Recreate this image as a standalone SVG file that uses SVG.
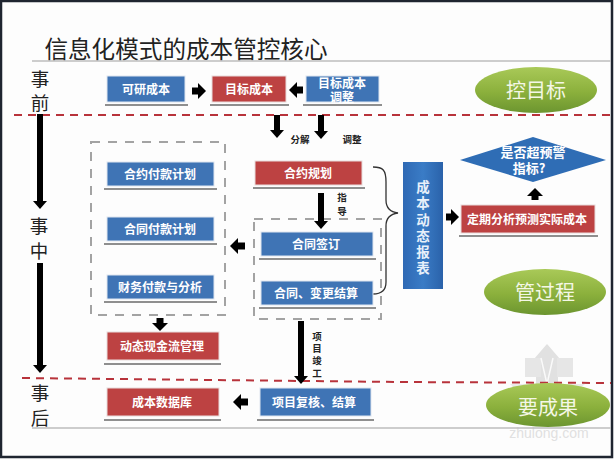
<svg xmlns="http://www.w3.org/2000/svg" width="614" height="460" viewBox="0 0 614 460">
<style>
text{font-family:"Noto Sans CJK SC","Liberation Sans",sans-serif;text-anchor:middle}
.blue{fill:#3f74b5;stroke:#dfe6f0;stroke-width:1}
.red{fill:#bd4242;stroke:#e8dcdc;stroke-width:1}
.sh{stroke:#8f8f8f;stroke-width:2;fill:none}
.t{fill:#fff;font-size:12px;font-weight:700}
.side{fill:#222;font-size:18.5px}
.lab{fill:#222;font-size:9.5px;font-weight:700}
.v{writing-mode:vertical-rl;text-orientation:upright}
.et{fill:#f4f7e6;font-size:20px}
.dash{fill:none;stroke:#a3a3a3;stroke-width:2;stroke-dasharray:9 8}
.rd{fill:none;stroke:#b8333b;stroke-width:2;stroke-dasharray:8 6}
.a{stroke:#000;stroke-width:6;fill:none;marker-end:url(#h)}
.b{stroke:#000;stroke-width:7;fill:none;marker-end:url(#h2)}
</style>
<defs>
<linearGradient id="g" x1="0" y1="0" x2="0" y2="1"><stop offset="0" stop-color="#a9c958"/><stop offset=".55" stop-color="#8bb03c"/><stop offset="1" stop-color="#6c9530"/></linearGradient>
<linearGradient id="bg" x1="0" y1="0" x2="1" y2="0"><stop offset="0" stop-color="#2f69b4"/><stop offset=".5" stop-color="#3a7cc6"/><stop offset="1" stop-color="#2a62aa"/></linearGradient>
<marker id="h" markerUnits="userSpaceOnUse" markerWidth="12" markerHeight="16" refX="0" refY="7" orient="auto"><path d="M0,0L8,7L0,14Z" fill="#000"/></marker>
<marker id="h2" markerUnits="userSpaceOnUse" markerWidth="12" markerHeight="18" refX="0" refY="8" orient="auto"><path d="M0,0L8,8L0,16Z" fill="#000"/></marker>
</defs>
<rect width="614" height="460" fill="#fdfdfd"/>
<rect x="1" y="1" width="611" height="456" fill="none" stroke="#1f2530" stroke-width="2.5"/>

<g id="watermark" opacity=".9">
<path d="M547,344L566,366L558,366L558,385L536,385L536,366L528,366Z" fill="#dedede"/>
<rect x="525" y="358" width="16" height="19" fill="#e4e4e4"/><rect x="557" y="358" width="16" height="19" fill="#e4e4e4"/>
<path d="M547,384L585,384L560,405L547,420L534,405L510,384Z" fill="#e8e8e8"/>
<path d="M541,358L547,384L553,358" fill="none" stroke="#fafafa" stroke-width="1.5"/>
<text x="549" y="438" fill="#dedede" font-size="14" style="font-family:'Liberation Sans',sans-serif">zhulong.com</text>
</g>

<g id="title"><text x="186" y="58" font-size="23.6" fill="#222">信息化模式的成本管控核心</text>
<line x1="32" y1="61" x2="611" y2="61" stroke="#bdbdbd" stroke-width="1.5"/>
<line x1="32" y1="428" x2="611" y2="428" stroke="#bdbdbd" stroke-width="1.5"/></g>

<g id="dividers">
<line class="rd" x1="14" y1="115" x2="611" y2="115"/>
<path class="rd" d="M22,378L400,382L611,383"/>
<rect class="dash" x="91" y="142" width="134" height="173"/>
<rect class="dash" x="254" y="219" width="127" height="100"/>
</g>

<g id="phases">
<text class="side"><tspan x="40" y="86">事</tspan><tspan x="40" y="110">前</tspan></text>
<text class="side"><tspan x="39" y="233">事</tspan><tspan x="39" y="258">中</tspan></text>
<text class="side"><tspan x="40" y="400">事</tspan><tspan x="40" y="425">后</tspan></text>
</g>

<g id="connectors">
<line class="a" x1="40" y1="114" x2="40" y2="201"/>
<line class="a" x1="40" y1="263" x2="40" y2="365"/>
<line class="b" x1="192" y1="91" x2="198" y2="91"/>
<line class="b" x1="303" y1="90" x2="297" y2="90"/>
<line class="a" x1="277" y1="115" x2="277" y2="130"/>
<line class="a" x1="321" y1="115" x2="321" y2="131"/>
<line class="a" x1="321" y1="193" x2="321" y2="221"/>
<line class="b" x1="245" y1="246" x2="238" y2="246"/>
<line class="b" x1="160" y1="318" x2="160" y2="323"/>
<line class="a" x1="301" y1="321" x2="301" y2="376"/>
<line class="b" x1="248" y1="402" x2="241" y2="402"/>
<line class="b" x1="446" y1="217" x2="451" y2="217"/>
<line class="b" x1="535" y1="200" x2="535" y2="196"/>
<path d="M373,167C383,167 386,170 386,182L386,200C386,208 390,212 398,213C390,214 386,218 386,226L386,282C386,290 382,294 373,294" fill="none" stroke="#333" stroke-width="1.3"/>
</g>
<g id="labels">
<text class="lab" x="300" y="143">分解</text><text class="lab" x="352" y="143">调整</text>
<text class="lab v" x="342" y="207" style="letter-spacing:4.500px">指导</text>
<text class="lab v" x="317" y="356" style="letter-spacing:2.800px">项目竣工</text>
</g>

<g id="n1"><rect class="blue" x="107" y="76" width="78" height="26"/><line class="sh" x1="105" y1="105" x2="188" y2="105"/><text class="t" x="146" y="94">可研成本</text></g>
<g id="n2"><rect class="red" x="212" y="76" width="74" height="26"/><line class="sh" x1="210" y1="105" x2="289" y2="105"/><text class="t" x="249" y="94">目标成本</text></g>
<g id="n3"><rect class="blue" x="306" y="76" width="73" height="26"/><line class="sh" x1="303" y1="105" x2="382" y2="105"/><text class="t"><tspan x="342" y="87.500">目标成本</tspan><tspan x="342" y="102">调整</tspan></text></g>
<g id="n4"><rect class="blue" x="107" y="162" width="107" height="24"/><line class="sh" x1="104" y1="189" x2="217" y2="189"/><text class="t" x="160" y="179">合约付款计划</text></g>
<g id="n5"><rect class="red" x="255" y="161" width="107" height="24"/><line class="sh" x1="253" y1="188" x2="365" y2="188"/><text class="t" x="308" y="178">合约规划</text></g>
<g id="n6"><rect class="blue" x="107" y="217" width="107" height="24"/><line class="sh" x1="104" y1="244" x2="217" y2="244"/><text class="t" x="160" y="234">合同付款计划</text></g>
<g id="n7"><rect class="blue" x="261" y="232" width="112" height="24"/><line class="sh" x1="259" y1="259" x2="376" y2="259"/><text class="t" x="316" y="249">合同签订</text></g>
<g id="n8"><rect class="blue" x="107" y="275" width="107" height="24"/><line class="sh" x1="104" y1="302" x2="217" y2="302"/><text class="t" x="160" y="292">财务付款与分析</text></g>
<g id="n9"><rect class="blue" x="261" y="281" width="112" height="24"/><line class="sh" x1="259" y1="308" x2="376" y2="308"/><text class="t" x="316" y="298">合同、变更结算</text></g>
<g id="n10"><rect class="red" x="107" y="332" width="112" height="28"/><line class="sh" x1="104" y1="364" x2="221" y2="364"/><text class="t" x="162" y="351">动态现金流管理</text></g>
<g id="n11"><rect class="red" x="107" y="388" width="112" height="28"/><line class="sh" x1="104" y1="420" x2="221" y2="420"/><text class="t" x="162" y="407">成本数据库</text></g>
<g id="n12"><rect class="blue" x="260" y="388" width="111" height="28"/><line class="sh" x1="257" y1="420" x2="374" y2="420"/><text class="t" x="314" y="407">项目复核、结算</text></g>
<g id="n13"><rect x="403" y="162" width="40" height="127" fill="url(#bg)"/>
<text class="v" x="423" y="229" style="font-size:13.500px;font-weight:700;letter-spacing:2.800px" fill="#e8f0fa">成本动态报表</text></g>
<g id="n14"><path d="M533,137L606,160L533,182L460,160Z" fill="#2f6db5"/><text class="t" style="font-size:13px"><tspan x="533" y="157">是否超预警</tspan><tspan x="529" y="173">指标?</tspan></text></g>
<g id="n15"><rect class="red" x="461" y="205" width="134" height="28"/><line class="sh" x1="459" y1="236" x2="598" y2="236"/><text class="t" x="527" y="224">定期分析预测实际成本</text></g>
<g id="n16"><ellipse cx="536" cy="90" rx="61" ry="23" fill="url(#g)"/><text class="et" x="536" y="98">控目标</text></g>
<g id="n17"><ellipse cx="545" cy="292" rx="61" ry="23" fill="url(#g)"/><text class="et" x="545" y="300">管过程</text></g>
<g id="n18"><ellipse cx="548" cy="405" rx="62" ry="22" fill="url(#g)"/><text class="et" x="548" y="415">要成果</text></g>
</svg>
